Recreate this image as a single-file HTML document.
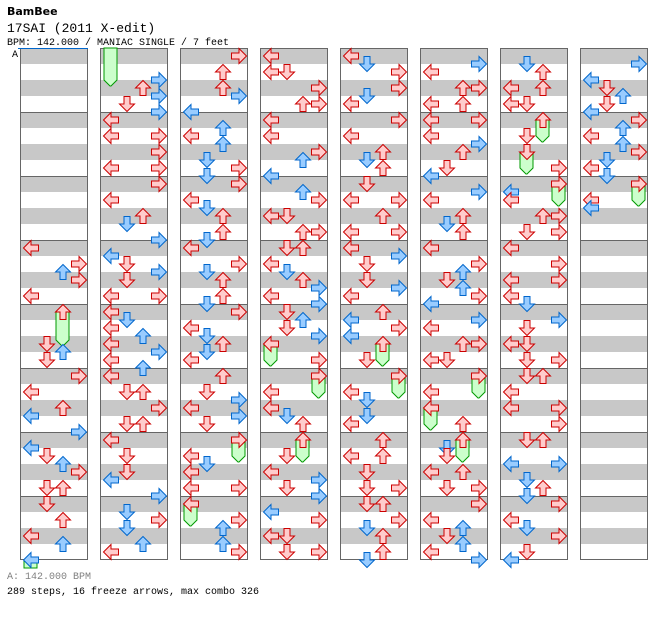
<!DOCTYPE html>
<html><head><meta charset="utf-8"><style>
html,body{margin:0;padding:0;background:#fff;width:672px;height:620px;overflow:hidden}
svg{display:block}
</style></head><body>
<svg id="chart" width="672" height="620" xmlns="http://www.w3.org/2000/svg">
<text x="7" y="15" font-family="'DejaVu Sans','Liberation Sans',sans-serif" font-weight="bold" font-size="11">BamBee</text>
<text x="7" y="32" font-family="'Liberation Mono',monospace" font-size="13">17SAI (2011 X-edit)</text>
<text x="7" y="45" font-family="'Liberation Mono',monospace" font-size="10">BPM: 142.000 / MANIAC SINGLE / 7 feet</text>
<text x="7" y="579" fill="#808080" font-family="'Liberation Mono',monospace" font-size="10">A: 142.000 BPM</text>
<text x="7" y="594" font-family="'Liberation Mono',monospace" font-size="10">289 steps, 16 freeze arrows, max combo 326</text>
<g id="grid"></g><g id="frz"></g><g id="arr"></g>
</svg>
<script>
const laneNames = ["L","D","U","R"];
const steps = [
[3,0,"L"],[3,2,"R"],[3,3,"U"],[3,4,"R"],[3,6,"L"],
[4,0,"U"],[4,4,"D"],[4,5,"U"],[4,6,"D"],
[5,0,"R"],[5,2,"L"],[5,4,"U"],[5,5,"L"],[5,7,"R"],
[6,1,"L"],[6,2,"D"],[6,3,"U"],[6,4,"R"],[6,6,"DU"],
[7,0,"D"],[7,2,"U"],[7,4,"L"],[7,5,"U"],[7,7,"L"],
[8,3,"R"],[8,4,"U"],[8,5,"R"],[8,6,"D"],[8,7,"R"],
[9,0,"L"],[9,2,"LR"],[9,4,"R"],[9,6,"LR"],
[10,0,"R"],[10,2,"L"],[10,4,"U"],[10,5,"D"],[10,7,"R"],
[11,1,"L"],[11,2,"D"],[11,3,"R"],[11,4,"D"],[11,6,"LR"],
[12,0,"L"],[12,1,"D"],[12,2,"L"],[12,3,"U"],[12,4,"L"],[12,5,"R"],[12,6,"L"],[12,7,"U"],
[13,0,"L"],[13,2,"DU"],[13,4,"R"],[13,6,"DU"],
[14,0,"L"],[14,2,"D"],[14,4,"D"],[14,5,"L"],[14,7,"R"],
[15,1,"D"],[15,2,"R"],[15,3,"D"],[15,5,"U"],[15,6,"L"],
[16,0,"R"],[16,2,"U"],[16,4,"U"],[16,5,"R"],[16,7,"L"],
[17,1,"U"],[17,2,"L"],[17,3,"U"],[17,5,"D"],[17,6,"R"],[17,7,"D"],
[18,0,"R"],[18,2,"L"],[18,3,"D"],[18,4,"U"],[18,6,"U"],[18,7,"D"],
[19,0,"L"],[19,2,"R"],[19,3,"D"],[19,4,"U"],[19,6,"U"],[19,7,"D"],
[20,0,"R"],[20,2,"L"],[20,3,"D"],[20,4,"U"],[20,5,"D"],[20,6,"L"],
[21,0,"U"],[21,2,"D"],[21,3,"R"],[21,4,"L"],[21,5,"R"],[21,6,"D"],
[22,0,"R"],[22,2,"L"],[22,3,"D"],[22,4,"L"],[22,6,"LR"],
[23,0,"L"],[23,2,"R"],[23,3,"U"],[23,5,"U"],[23,6,"R"],
[24,0,"L"],[24,2,"LD"],[24,4,"R"],[24,6,"UR"],
[25,0,"L"],[25,2,"L"],[25,4,"R"],[25,5,"U"],[25,7,"L"],
[26,1,"U"],[26,2,"R"],[26,4,"LD"],[26,6,"UR"],
[27,0,"DU"],[27,2,"L"],[27,3,"D"],[27,4,"U"],[27,5,"R"],[27,6,"L"],[27,7,"R"],
[28,0,"D"],[28,1,"U"],[28,2,"D"],[28,3,"R"],[28,4,"L"],[28,6,"R"],
[29,0,"R"],[29,2,"L"],[29,4,"L"],[29,5,"D"],[29,6,"U"],
[30,0,"U"],[30,2,"D"],[30,4,"L"],[30,5,"R"],[30,6,"D"],[30,7,"R"],
[31,1,"L"],[31,2,"R"],[31,4,"LD"],[31,6,"DR"],
[32,0,"L"],[32,1,"D"],[32,2,"R"],[32,4,"R"],[32,5,"D"],[32,6,"L"],
[33,0,"R"],[33,2,"L"],[33,4,"U"],[33,5,"D"],[33,6,"U"],
[34,0,"D"],[34,2,"LR"],[34,4,"U"],[34,6,"LR"],
[35,0,"L"],[35,1,"R"],[35,2,"D"],[35,4,"D"],[35,5,"R"],[35,6,"L"],
[36,0,"U"],[36,1,"L"],[36,2,"R"],[36,3,"L"],[36,4,"U"],[36,6,"D"],
[37,0,"R"],[37,2,"L"],[37,3,"D"],[37,5,"D"],[37,6,"L"],
[38,0,"U"],[38,2,"LU"],[38,4,"D"],[38,6,"DR"],
[39,0,"DU"],[39,2,"R"],[39,3,"D"],[39,4,"U"],[39,6,"U"],[39,7,"D"],
[40,1,"R"],[40,2,"L"],[40,4,"UR"],[40,6,"LU"],
[41,0,"LR"],[41,2,"L"],[41,3,"R"],[41,4,"U"],[41,6,"D"],[41,7,"L"],
[42,1,"R"],[42,2,"L"],[42,4,"U"],[42,5,"D"],[42,6,"U"],
[43,0,"L"],[43,2,"R"],[43,3,"U"],[43,4,"D"],[43,5,"U"],[43,6,"R"],[43,7,"L"],
[44,1,"R"],[44,2,"L"],[44,4,"UR"],[44,6,"LD"],
[45,0,"R"],[45,2,"L"],[45,4,"L"],[45,6,"U"],
[46,0,"U"],[46,1,"D"],[46,2,"D"],[46,4,"LU"],[46,6,"DR"],
[47,0,"R"],[47,2,"L"],[47,3,"U"],[47,4,"D"],[47,5,"U"],[47,6,"L"],[47,7,"R"],
[48,1,"D"],[48,2,"U"],[48,4,"LU"],[48,6,"LD"],
[49,0,"U"],[49,2,"D"],[49,4,"D"],[49,6,"R"],
[50,0,"R"],[50,1,"L"],[50,2,"L"],[50,4,"UR"],[50,6,"DR"],
[51,0,"L"],[51,2,"R"],[51,4,"LR"],[51,6,"L"],[51,7,"D"],
[52,1,"R"],[52,2,"D"],[52,4,"LD"],[52,6,"DR"],
[53,0,"DU"],[53,2,"L"],[53,4,"LR"],[53,6,"R"],
[54,0,"DU"],[54,3,"LR"],[54,5,"D"],[54,6,"U"],[54,7,"D"],
[55,0,"R"],[55,2,"L"],[55,3,"D"],[55,4,"R"],[55,6,"D"],[55,7,"L"],
[56,1,"R"],[56,3,"L"],[56,4,"D"],[56,5,"U"],[56,6,"D"],[56,7,"L"],
[57,0,"R"],[57,1,"U"],[57,2,"L"],[57,3,"U"],[57,4,"R"],[57,5,"D"],[57,6,"L"],[57,7,"D"],
[58,0,"R"],[58,2,"L"],[58,3,"L"]
];
const freezes = [
[4,0,"U",3.5],[7,7,"L",4],[22,0,"R",2],[23,0,"L",2],[28,4,"L",2],[29,0,"R",2],[30,0,"U",2],
[36,4,"U",2],[37,0,"R",2],[45,0,"R",2],[45,4,"L",2],[46,0,"U",2],[49,0,"U",2],[49,4,"D",2],[50,0,"R",2],[58,0,"R",2]
];
const NS="http://www.w3.org/2000/svg";
const MPC=8, TOP=48, MH=64, EH=8;
function colX(c){return 20+80*c;}
function laneX(c,l){return colX(c)+3+16*l;}
function posY(m,e){return TOP+(m%MPC)*MH+e*EH;}
function mk(tag,attrs,parent){const el=document.createElementNS(NS,tag);for(const k in attrs)el.setAttribute(k,attrs[k]);parent.appendChild(el);return el;}
const grid=document.getElementById('grid'), frz=document.getElementById('frz'), arr=document.getElementById('arr');
for(let c=0;c<8;c++){
  const g=mk('g',{},grid);
  
  
  const x=colX(c);
  mk('rect',{x:x,y:TOP,width:68,height:512,fill:'#fff'},g);
  for(let s=0;s<32;s+=2) mk('rect',{x:x,y:TOP+s*16,width:68,height:16,fill:'#c8c8c8'},g);
  for(let m=1;m<8;m++) mk('line',{x1:x,x2:x+68,y1:TOP+m*MH+0.5,y2:TOP+m*MH+0.5,stroke:'#666','stroke-width':1},g);
  mk('rect',{x:x+0.5,y:TOP+0.5,width:67,height:511,fill:'none',stroke:'#666','stroke-width':1},g);
}
mk('line',{x1:18,x2:88,y1:48.5,y2:48.5,stroke:'#0066cc','stroke-width':1},grid);
const al=mk('text',{x:12,y:57,'font-family':"'Liberation Mono',monospace",'font-size':10},grid);
al.textContent='A';


function frzPoly(x,y1,y2){return `${x+1},${y1} ${x+14},${y1} ${x+14},${y2-6} ${x+8},${y2} ${x+7},${y2} ${x+1},${y2-6}`;}
freezes.forEach(f=>{
  const m=f[0], e=f[1], l=laneNames.indexOf(f[2]), len=f[3];
  const c=Math.floor(m/MPC);
  const y=posY(m,e);
  const endY=y+len*EH+14;
  const bottom=TOP+512;
  const g=mk('g',{},frz);
  
  
  if(endY<=bottom+8){
    mk('polygon',{points:frzPoly(laneX(c,l),y+8,endY),fill:'#ccffcc',stroke:'#009900','stroke-width':1},g);
  } else {
    mk('rect',{x:laneX(c,l)+1,y:y+8,width:13,height:bottom+8-(y+8),fill:'#ccffcc',stroke:'#009900','stroke-width':1},g);
    const ny=TOP+(endY-bottom);
    mk('polygon',{points:frzPoly(laneX(c+1,l),TOP,ny),fill:'#ccffcc',stroke:'#009900','stroke-width':1},g);
  }
});
const rot={L:-90,D:180,U:0,R:90};
steps.forEach(s=>{
  const m=s[0], e=s[1], c=Math.floor(m/MPC);
  const red=(e%2===0);
  for(const ch of s[2]){
    const l=laneNames.indexOf(ch);
    const x=laneX(c,l), y=posY(m,e);
    const p=mk('path',{d:'M8,0.5 L15.5,8 L11,8 L11,15.5 L5,15.5 L5,8 L0.5,8 Z',
      transform:`translate(${x},${y}) rotate(${rot[ch]},8,8)`,
      fill:red?'#ffcccc':'#99ccff',stroke:red?'#cc0000':'#0066cc','stroke-width':1,'stroke-linejoin':'miter'},arr);
    
    
  }
});
</script>
</body></html>
